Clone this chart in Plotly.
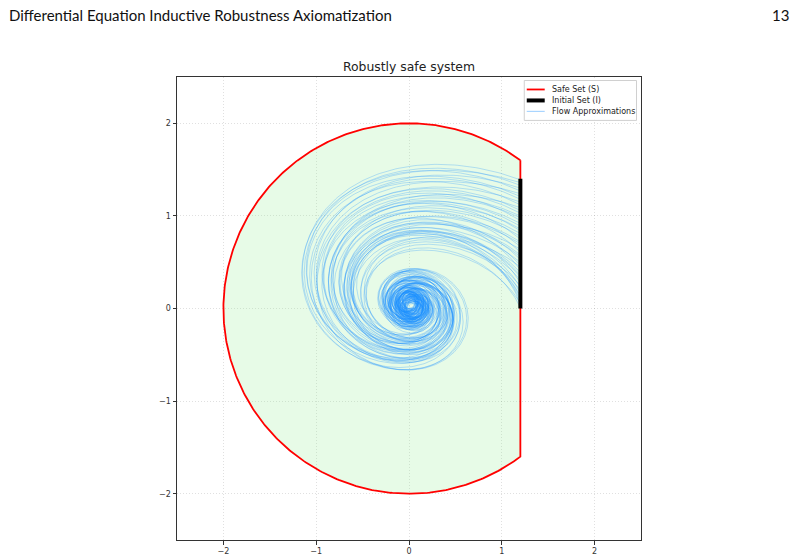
import numpy as np
import plotly.graph_objects as go

# ---------------- data ----------------
header_left = "Differential Equation Inductive Robustness Axiomatization"
header_right = "13"
chart_title = "Robustly safe system"
legend_labels = ["Safe Set (S)", "Initial Set (I)", "Flow Approximations"]

tick_values = [-2, -1, 0, 1, 2]
axis_range = [-2.5, 2.5]

# Safe set: disc of radius 2 cut by the vertical line x = 1.2
safe_radius = 2.0
safe_cut_x = 1.2

# Initial set: segment x = 1.2, 0 <= y <= 1.4
init_x = 1.2
init_y = [0.0, 1.4]

# Flow approximations: start heights on the initial set, damping, turns and centre shifts
start_y = [0.01, 0.04, 0.06, 0.09, 0.12, 0.14, 0.17, 0.20, 0.23, 0.25,
           0.28, 0.31, 0.34, 0.36, 0.39, 0.42, 0.45, 0.47, 0.50, 0.53,
           0.56, 0.58, 0.61, 0.64, 0.67, 0.70, 0.72, 0.75, 0.78, 0.81,
           0.84, 0.86, 0.89, 0.92, 0.95, 0.98, 1.00, 1.03, 1.06, 1.09,
           1.12, 1.15, 1.18, 1.21, 1.24, 1.27, 1.30, 1.33, 1.36, 1.39]
damping = [0.32, 0.26, 0.35, 0.28, 0.31, 0.25, 0.30, 0.34, 0.27, 0.33,
           0.26, 0.35, 0.24, 0.31, 0.29, 0.25, 0.36, 0.27, 0.32, 0.24,
           0.34, 0.29, 0.25, 0.33, 0.27, 0.35, 0.30, 0.24, 0.28, 0.34,
           0.26, 0.32, 0.28, 0.31, 0.26, 0.29, 0.33, 0.25, 0.30, 0.35,
           0.27, 0.32, 0.24, 0.29, 0.34, 0.26, 0.31, 0.28, 0.33, 0.27]
turns = [3.4, 4.1, 2.9, 3.8, 3.2, 4.3, 3.6, 3.0, 3.9, 3.3,
         4.2, 2.8, 3.7, 3.1, 4.0, 3.5, 2.9, 4.4, 3.3, 3.6,
         4.1, 3.0, 3.8, 3.2, 4.3, 3.4, 2.9, 4.0, 3.6, 3.1,
         4.2, 3.3, 3.7, 2.9, 3.9, 3.5, 3.0, 4.1, 3.4, 2.8,
         3.8, 3.2, 4.0, 3.5, 3.1, 4.3, 3.6, 2.9, 3.9, 3.3]
center_dx = [0.04, -0.03, 0.01, 0.06, -0.05, 0.02, -0.01, 0.05, -0.04, 0.03,
             0.00, -0.06, 0.05, -0.02, 0.03, -0.05, 0.06, 0.01, -0.03, 0.04,
             -0.01, 0.02, -0.05, 0.05, 0.00, -0.04, 0.06, -0.02, 0.03, -0.06,
             0.01, 0.04, -0.03, 0.02, -0.01, 0.05, -0.04, 0.03, -0.02, 0.06,
             -0.05, 0.01, 0.04, -0.06, 0.02, -0.03, 0.05, 0.00, -0.02, 0.03]
center_dy = [-0.03, 0.05, -0.06, 0.02, 0.04, -0.05, 0.06, -0.02, 0.01, -0.04,
             0.05, 0.03, -0.06, 0.02, -0.01, 0.06, -0.04, 0.03, -0.05, 0.00,
             0.04, -0.03, 0.02, -0.06, 0.05, 0.01, -0.02, 0.04, -0.05, 0.03,
             -0.01, 0.06, -0.04, 0.02, 0.05, -0.03, 0.01, -0.05, 0.06, -0.02,
             0.03, -0.06, 0.00, 0.04, -0.04, 0.02, -0.01, 0.05, -0.03, 0.01]
spiral_center = [0.02, 0.03]
core_radius = 0.35
inner_damping = 0.04
damping_swing = 0.7         # damping varies twice per loop (strong lower-left / upper-right)
swing_angle_deg = 20

# ---------------- geometry helpers ----------------
W, H = 800, 560
L, R, T, B = 176.5, 641.5, 76.5, 540.5


def px(x):
    return (x - L) / (R - L)


def py(y):
    return (B - y) / (B - T)


# safe set boundary
a0 = np.arctan2(np.sqrt(safe_radius**2 - safe_cut_x**2), safe_cut_x)
ang = np.linspace(a0, 2 * np.pi - a0, 400)
safe_x = list(safe_radius * np.cos(ang)) + [safe_cut_x]
safe_y = list(safe_radius * np.sin(ang)) + [np.sqrt(safe_radius**2 - safe_cut_x**2)]


def flow_path(y0, k, n_turns, dx, dy):
    cx = spiral_center[0] + dx
    cy = spiral_center[1] + dy
    u = init_x - cx
    v = y0 - cy
    r = np.hypot(u, v)
    th = np.arctan2(v, u)
    dth = 0.02
    phi = np.deg2rad(swing_angle_deg)
    n = int(n_turns * 2 * np.pi / dth)
    xs, ys = [init_x], [y0]
    for _ in range(n):
        keff = inner_damping + (k - inner_damping) * r**2 / (r**2 + core_radius**2)
        keff *= 1 + damping_swing * np.cos(2 * (th - phi))
        r -= keff * r * dth
        th += dth
        xs.append(cx + r * np.cos(th))
        ys.append(cy + r * np.sin(th))
    return xs, ys


fig = go.Figure()

fig.add_trace(go.Scatter(x=safe_x, y=safe_y, mode="lines", fill="toself",
                         fillcolor="rgba(144,238,144,0.22)",
                         line=dict(color="#ff0000", width=1.8),
                         name=legend_labels[0], showlegend=False, hoverinfo="skip"))

flow_color = "rgba(30,144,255,0.28)"
for y0, k, n, dx, dy in zip(start_y, damping, turns, center_dx, center_dy):
    fx, fy = flow_path(y0, k, n, dx, dy)
    fig.add_trace(go.Scatter(x=fx, y=fy, mode="lines",
                             line=dict(color=flow_color, width=1),
                             name=legend_labels[2], showlegend=False, hoverinfo="skip"))

fig.add_trace(go.Scatter(x=[init_x, init_x], y=init_y, mode="lines",
                         line=dict(color="#000000", width=4),
                         name=legend_labels[1], showlegend=False, hoverinfo="skip"))

axis_common = dict(range=axis_range, tickvals=tick_values, showgrid=True,
                   gridcolor="rgba(0,0,0,0.12)", griddash="1px,2px", gridwidth=1,
                   zeroline=False, showline=True, linecolor="#333", linewidth=1,
                   mirror=True, ticks="outside", ticklen=3.5, tickcolor="#333",
                   tickfont=dict(family="DejaVu Sans", size=8, color="#333"),
                   automargin=False, fixedrange=True)

shapes = []
annotations = []

# legend box
shapes.append(dict(type="rect", xref="paper", yref="paper",
                   x0=px(524.5), x1=px(637), y0=py(120), y1=py(80),
                   line=dict(color="#d0d0d0", width=1), fillcolor="rgba(255,255,255,0.85)",
                   layer="above"))
leg_rows = [89, 100, 111]
leg_styles = [dict(color="#ff0000", width=1.8), dict(color="#000000", width=4),
              dict(color="rgba(30,144,255,0.38)", width=1.2)]
for row, sty, lab in zip(leg_rows, leg_styles, legend_labels):
    shapes.append(dict(type="line", xref="paper", yref="paper",
                       x0=px(527), x1=px(545), y0=py(row), y1=py(row),
                       line=sty, layer="above"))
    annotations.append(dict(text=lab, xref="paper", yref="paper", x=px(550), y=py(row),
                            xanchor="left", yanchor="middle", showarrow=False,
                            font=dict(family="DejaVu Sans", size=8, color="#222")))

# page header
annotations.append(dict(text=header_left, xref="paper", yref="paper", x=px(6), y=py(14),
                        xanchor="left", yanchor="middle", showarrow=False,
                        font=dict(family="Lato", size=15, color="#111")))
annotations.append(dict(text=header_right, xref="paper", yref="paper", x=px(792), y=py(14),
                        xanchor="right", yanchor="middle", showarrow=False,
                        font=dict(family="Lato", size=15, color="#111")))

fig.update_layout(
    width=W, height=H,
    margin=dict(l=L, r=W - R, t=T, b=H - B, pad=0),
    paper_bgcolor="white", plot_bgcolor="white",
    title=dict(text=chart_title, x=0.5, xref="paper", xanchor="center",
               y=1 - 67 / H, yref="container", yanchor="middle",
               font=dict(family="DejaVu Sans", size=12.4, color="#222")),
    xaxis=axis_common, yaxis=axis_common,
    shapes=shapes, annotations=annotations, showlegend=False,
)

fig.write_html("out.html")
